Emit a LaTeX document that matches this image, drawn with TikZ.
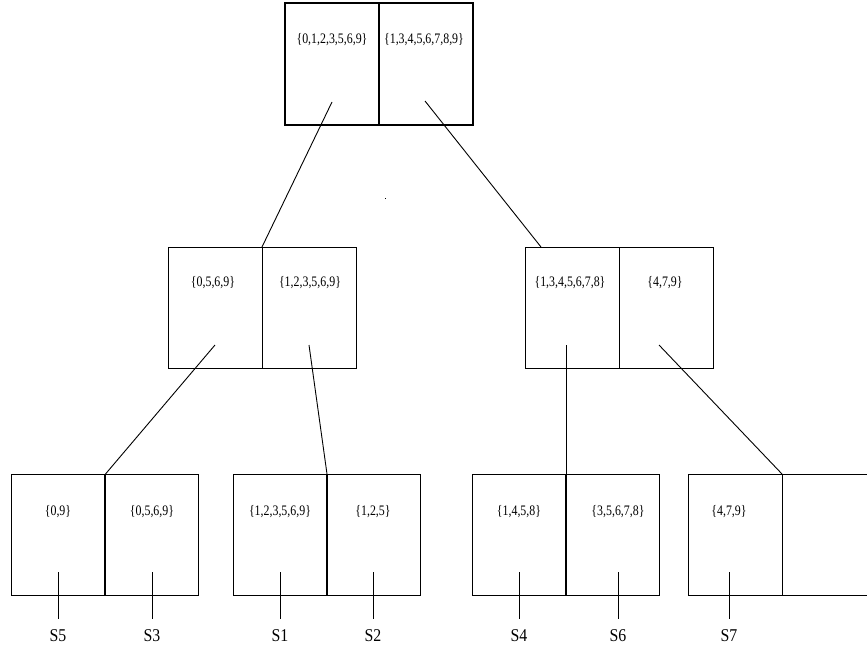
\documentclass[tikz,border=0pt]{standalone}
\usepackage{fontspec}
\setmainfont{Liberation Serif}
\usetikzlibrary{calc}
\tikzset{
  cell/.style={draw, line width=1pt, minimum width=94pt, minimum height=121pt, inner sep=0pt, outer sep=0pt},
  topcell/.style={cell, line width=1.8pt, minimum height=122pt},
  settext/.style={inner sep=0pt, font=\fontsize{14.5}{16}\selectfont},
  stext/.style={inner sep=0pt, font=\fontsize{18}{20}\selectfont},
  link/.style={line width=0.9pt},
}
\newcommand{\cnd}[1]{\scalebox{0.82}[1]{#1}}
\begin{document}
\begin{tikzpicture}[x=1pt,y=-1pt]
\path[use as bounding box, clip] (0,0) rectangle (867,653);
% top box
\node[topcell] (tl) at (332,64) {};
\node[topcell] (tr) at (426,64) {};
\node[settext] (tlt) at (332,40) {\cnd{\{0,1,2,3,5,6,9\}}};
\node[settext] (trt) at (424,40) {\cnd{\{1,3,4,5,6,7,8,9\}}};
% middle boxes
\node[cell] (ml) at (215,307.5) {};
\node[cell] (mr) at (309,307.5) {};
\node[cell] (nl) at (572,307.5) {};
\node[cell] (nr) at (666,307.5) {};
\node[settext] (mlt) at (213,283) {\cnd{\{0,5,6,9\}}};
\node[settext] (mrt) at (310,283) {\cnd{\{1,2,3,5,6,9\}}};
\node[settext] (nlt) at (570,283) {\cnd{\{1,3,4,5,6,7,8\}}};
\node[settext] (nrt) at (665,283) {\cnd{\{4,7,9\}}};
% bottom boxes
\node[cell] (b1l) at (58.5,534.5) {};
\node[cell] (b1r) at (151.5,534.5) {};
\node[cell] (b2l) at (280,534.5) {};
\node[cell] (b2r) at (373.5,534.5) {};
\node[cell] (b3l) at (519,534.5) {};
\node[cell] (b3r) at (612.5,534.5) {};
\node[cell] (b4l) at (735,534.5) {};
% right cell of the last box runs off the picture's edge
\coordinate (b4rt) at (880,474);
\coordinate (b4rb) at (880,595);
\draw[line width=1pt] (b4l.north east) -- (b4rt);
\draw[line width=1pt] (b4l.south east) -- (b4rb);
\node[settext] (b1lt) at (58,512) {\cnd{\{0,9\}}};
\node[settext] (b1rt) at (152,512) {\cnd{\{0,5,6,9\}}};
\node[settext] (b2lt) at (280,512) {\cnd{\{1,2,3,5,6,9\}}};
\node[settext] (b2rt) at (373,512) {\cnd{\{1,2,5\}}};
\node[settext] (b3lt) at (519,512) {\cnd{\{1,4,5,8\}}};
\node[settext] (b3rt) at (618,512) {\cnd{\{3,5,6,7,8\}}};
\node[settext] (b4lt) at (729,512) {\cnd{\{4,7,9\}}};
% connector start points inside parent cells
\coordinate (tls) at (332,102);
\coordinate (trs) at (425,101);
\coordinate (nle) at (541,247);
\coordinate (mls) at (215,345);
\coordinate (mrs) at (309,345);
\coordinate (nls) at (566,345);
\coordinate (nrs) at (659,345);
\draw[link] (tls) -- (ml.north east);
\draw[link] (trs) -- (nle);
\draw[link] (mls) -- (b1l.north east);
\draw[link] (mrs) -- (b2l.north east);
\draw[link] (nls) -- (b3l.north east);
\draw[link] (nrs) -- (b4l.north east);
% S labels and stubs
\foreach \n/\x/\s in {s5/58/S5, s3/152/S3, s1/280/S1, s2/373/S2, s4/519/S4, s6/618/S6, s7/729/S7}{
  \coordinate (\n-a) at (\x,572);
  \coordinate (\n-b) at (\x,619);
  \node[stext, anchor=north] (\n) at (\x,629) {\scalebox{0.88}[1]{\s}};
  \draw[link] (\n-a) -- (\n-b);
}
% stray dot
\fill (384.5,197.5) rectangle (385.5,198.5);
\end{tikzpicture}
\end{document}
